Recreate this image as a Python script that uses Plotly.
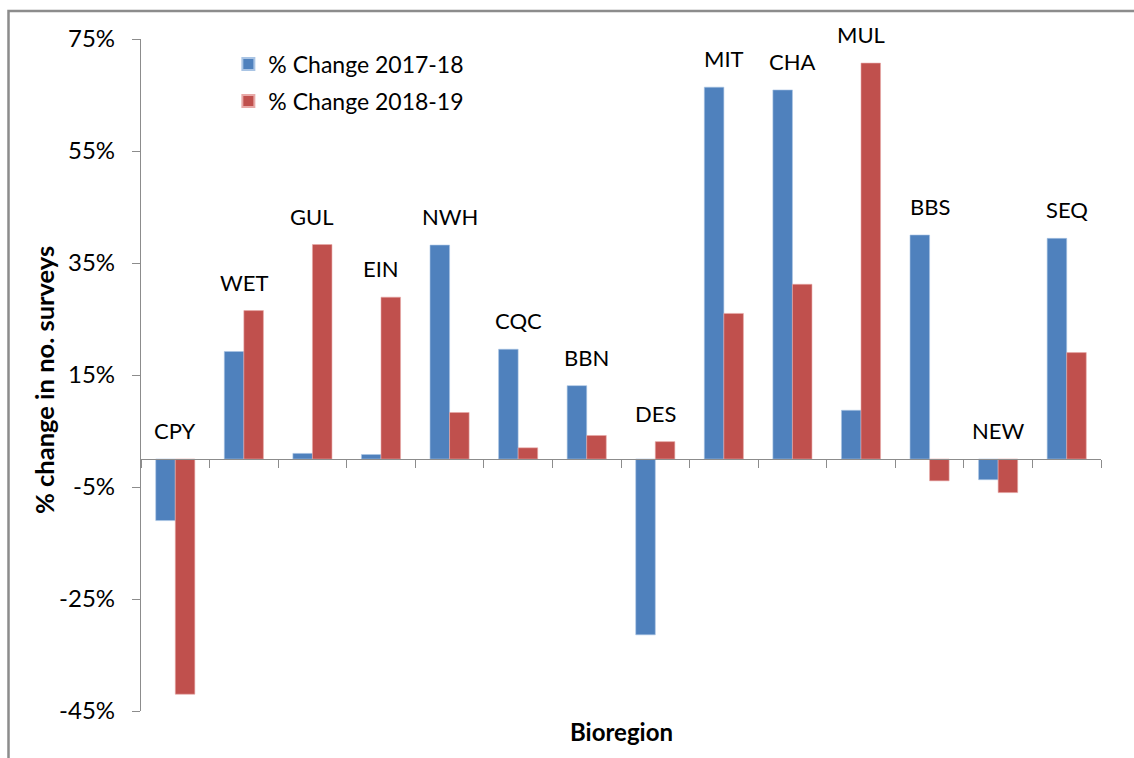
import plotly.graph_objects as go

categories = ["CPY", "WET", "GUL", "EIN", "NWH", "CQC", "BBN", "DES",
              "MIT", "CHA", "MUL", "BBS", "NEW", "SEQ"]
change_2017_18 = [-11.0, 19.2, 1.0, 0.8, 38.2, 19.6, 13.1, -31.4,
                  66.4, 65.9, 8.7, 40.0, -3.7, 39.4]
change_2018_19 = [-42.0, 26.5, 38.3, 28.9, 8.3, 2.0, 4.2, 3.1,
                  26.0, 31.2, 70.7, -3.9, -6.0, 19.0]
y_ticks = [-45, -25, -5, 15, 35, 55, 75]
y_tick_labels = ["-45%", "-25%", "-5%", "15%", "35%", "55%", "75%"]

FONT = "Lato, 'Open Sans', sans-serif"
BLUE = "#4F81BD"
RED = "#C0504D"
GRAY = "#8C8C8C"

fig = go.Figure()
fig.add_trace(go.Bar(x=categories, y=change_2017_18, name="% Change 2017-18",
                     legend="legend",
                     marker=dict(color=BLUE, line=dict(color="#A9C4E4", width=0.6))))
fig.add_trace(go.Bar(x=categories, y=change_2018_19, name="% Change 2018-19",
                     legend="legend2",
                     marker=dict(color=RED, line=dict(color="#E8A9A7", width=0.6))))

ymin, ymax = y_ticks[0], y_ticks[-1]

annotations = []
for c, a, b in zip(categories, change_2017_18, change_2018_19):
    annotations.append(dict(x=c, y=max(a, b, 0), text=c, showarrow=False,
                            xref="x", yref="y", yanchor="bottom", yshift=13,
                            font=dict(family=FONT, size=22, color="black")))
annotations.append(dict(x=0.5, y=-0.03, xref="paper", yref="paper", text="<b>Bioregion</b>",
                        showarrow=False, yanchor="middle",
                        font=dict(family=FONT, size=24, color="black")))
annotations.append(dict(x=-0.101, y=0.4926, xref="paper", yref="paper",
                        text="<b>% change in no. surveys</b>", textangle=-90,
                        showarrow=False, xanchor="center", yanchor="middle",
                        font=dict(family=FONT, size=25.5, color="black")))

legend_common = dict(xanchor="left", yanchor="middle", bgcolor="rgba(0,0,0,0)",
                     font=dict(family=FONT, size=23), itemsizing="constant")

fig.update_layout(
    width=1134, height=758,
    margin=dict(l=141, r=33, t=39, b=47),
    paper_bgcolor="white", plot_bgcolor="white",
    barmode="group", bargap=0.43, bargroupgap=0,
    font=dict(family=FONT, size=22, color="black"),
    showlegend=True,
    legend=dict(x=0.091, y=1 - (64 - 39) / 672, **legend_common),
    legend2=dict(x=0.091, y=1 - (101 - 39) / 672, **legend_common),
    annotations=annotations,
    shapes=[dict(type="rect", xref="paper", yref="paper",
                 x0=(8.5 - 141) / 960, x1=(1145 - 141) / 960,
                 y0=-(770 - 711) / 672, y1=1 + (39 - 11) / 672,
                 line=dict(color=GRAY, width=2.5), fillcolor="rgba(0,0,0,0)",
                 layer="below")],
)
fig.update_yaxes(range=[ymin, ymax], tickvals=y_ticks, ticktext=y_tick_labels,
                 showgrid=False, zeroline=False, showline=True, linecolor=GRAY,
                 linewidth=1.3, ticks="outside", ticklen=8, tickcolor=GRAY,
                 ticklabelstandoff=12,
                 tickfont=dict(family=FONT, size=24, color="black"))
fig.update_xaxes(anchor="free", position=(0 - ymin) / (ymax - ymin),
                 showticklabels=False, showgrid=False, zeroline=False,
                 showline=True, linecolor=GRAY, linewidth=1.3,
                 ticks="outside", tickson="boundaries", ticklen=8, tickcolor=GRAY)

fig.write_html("out.html", config={"displayModeBar": False},
               post_script="document.body.style.margin='0';document.body.style.overflow='hidden';")
